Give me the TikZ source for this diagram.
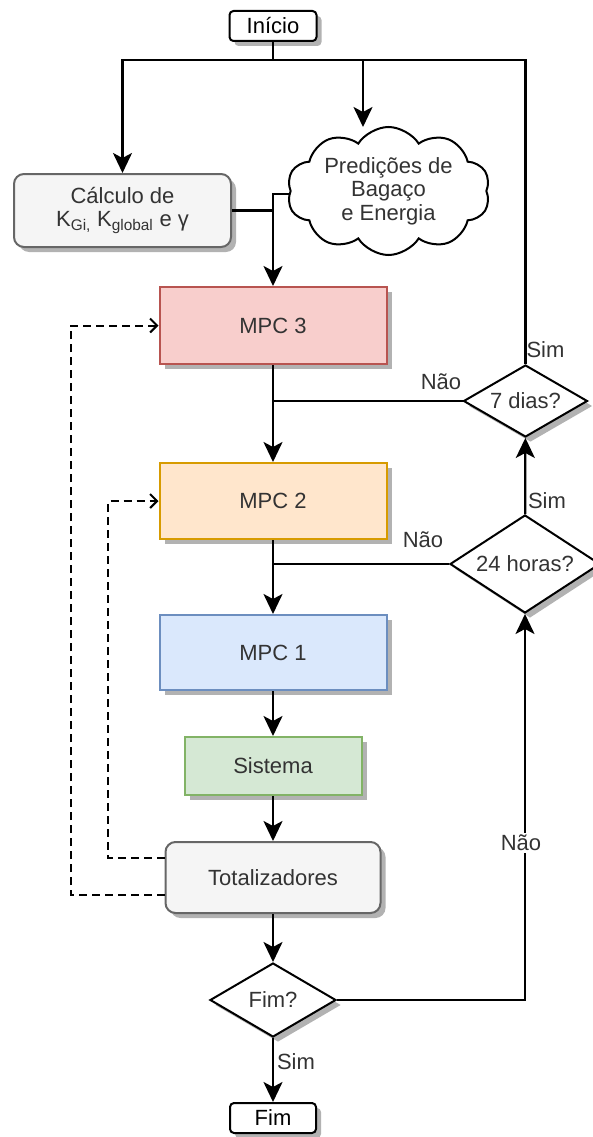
\documentclass[tikz,border=0pt]{standalone}
\usepackage{fontspec}
\setmainfont{Liberation Sans}
\usetikzlibrary{arrows.meta,shapes.geometric,shapes.symbols,shadows}
\definecolor{txt}{HTML}{333333}
\definecolor{redF}{HTML}{F8CECC}\definecolor{redD}{HTML}{B85450}
\definecolor{orF}{HTML}{FFE6CC}\definecolor{orD}{HTML}{D79B00}
\definecolor{blF}{HTML}{DAE8FC}\definecolor{blD}{HTML}{6C8EBF}
\definecolor{grF}{HTML}{D5E8D4}\definecolor{grD}{HTML}{82B366}
\definecolor{gyF}{HTML}{F5F5F5}\definecolor{gyD}{HTML}{666666}
\pgfdeclarelayer{back}
\pgfsetlayers{back,main}
\begin{document}
\begin{tikzpicture}[x=1pt,y=-1pt,
  every node/.style={font=\fontsize{22}{23.5}\selectfont, text=txt, inner sep=0pt, align=center},
  shad/.style={drop shadow={shadow xshift=5pt, shadow yshift=-5pt, fill=black, opacity=0.3}},
  boxnode/.style={draw, line width=2pt, shad},
  termnode/.style={draw=black, fill=white, line width=2pt, rounded corners=4pt, shad, text=black},
  decnode/.style={diamond, draw=black, fill=white, line width=2pt, shad, aspect=1.6},
  lbl/.style={text=txt},
  arr/.style={line width=2.2pt, -{Stealth[length=20pt,width=19pt,inset=5pt]}},
  ln/.style={line width=2.2pt},
  dsh/.style={line width=2pt, dash pattern=on 8pt off 5pt, -{Straight Barb[length=7pt,width=14pt,line width=2pt]}}
]
\useasboundingbox (0,0) rectangle (592,1137);

% nodes
\node[termnode, minimum width=87pt, minimum height=30pt] (inicio) at (273,26) {Início};
\node[boxnode, rounded corners=10pt, fill=gyF, draw=gyD, minimum width=217pt, minimum height=73pt] (calc) at (122.5,210.5) {Cálculo de\\K\textsubscript{Gi,} K\textsubscript{global} e γ};
\node[cloud, cloud puffs=10, cloud puff arc=115, cloud ignores aspect, draw=black, fill=white, line width=2pt, minimum width=203pt, minimum height=128pt] (cld) at (388.5,191) {Predições de\\Bagaço\\e Energia};
\node[boxnode, fill=redF, draw=redD, minimum width=227pt, minimum height=77pt] (mpc3) at (273,325.5) {MPC 3};
\node[boxnode, fill=orF, draw=orD, minimum width=227pt, minimum height=76pt] (mpc2) at (273,501) {MPC 2};
\node[boxnode, fill=blF, draw=blD, minimum width=227pt, minimum height=75pt] (mpc1) at (273,652.5) {MPC 1};
\node[boxnode, fill=grF, draw=grD, minimum width=177pt, minimum height=58pt] (sist) at (273,766) {Sistema};
\node[boxnode, rounded corners=10pt, fill=gyF, draw=gyD, minimum width=215pt, minimum height=71pt] (tot) at (273,877.5) {Totalizadores};
\node[decnode, minimum width=126pt, minimum height=74pt] (fimq) at (273,1000) {Fim?};
\node[termnode, minimum width=86pt, minimum height=30pt] (fim) at (273,1118) {Fim};
\node[decnode, minimum width=124pt, minimum height=72pt] (d7) at (525.5,401) {7 dias?};
\node[decnode, minimum width=150pt, minimum height=98pt] (d24) at (525,564) {24 horas?};

\coordinate (j0) at (273,60);
\coordinate (cin) at (363,127);

% connectors
\draw[ln] (inicio.south) -- (j0);
\draw[arr] (j0) -| (calc.north);
\draw[arr] (j0 -| cin) -- (cin);
\draw[ln] (d7.north) |- (j0);
\node[lbl] at (545.5,350) {Sim};
\draw[ln] (calc.east) -- (calc.east -| mpc3.north);
\begin{pgfonlayer}{back}
\draw[arr] ([yshift=-3pt]cld.center) -| (mpc3.north);
\end{pgfonlayer}
\draw[arr] (mpc3) -- (mpc2);
\draw[ln] (d7.west) -- (d7.west -| mpc3.south);
\node[lbl] at (441,382) {Não};
\draw[arr] (mpc2) -- (mpc1);
\draw[ln] (d24.west) -- (d24.west -| mpc2.south);
\node[lbl] at (423,540) {Não};
\draw[arr] (d24) -- (d7);
\node[lbl] at (547,501) {Sim};
\draw[arr] (mpc1) -- (sist);
\draw[arr] (sist) -- (tot);
\draw[arr] (tot) -- (fimq);
\draw[arr] (fimq) -- (fim);
\node[lbl] at (296,1062) {Sim};
\draw[arr] (fimq.east) -| (d24.south);
\node[lbl, fill=white, inner sep=2pt] at (521,843) {Não};
\draw[dsh] ([yshift=19.5pt]tot.west) -- ++(-56.5,0) |- (mpc2.west);
\draw[dsh] ([yshift=-17.5pt]tot.west) -- ++(-94,0) |- (mpc3.west);
\end{tikzpicture}
\end{document}
